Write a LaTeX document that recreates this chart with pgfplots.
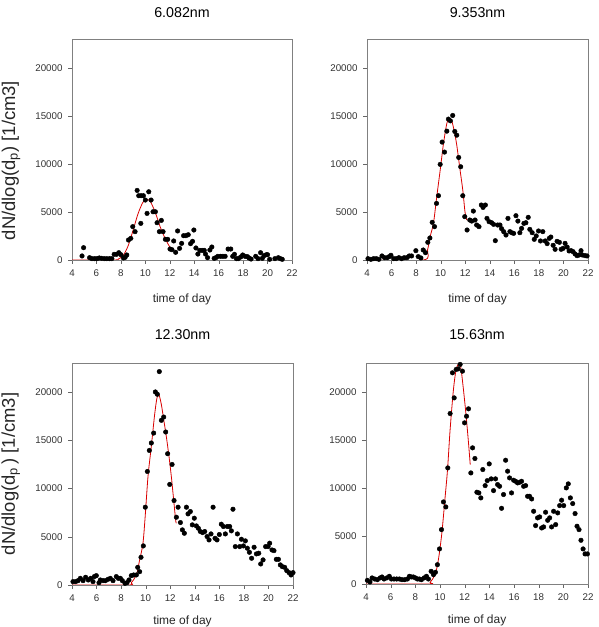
\documentclass[border=0pt]{standalone}
\usepackage{pgfplots}
\pgfplotsset{compat=1.18}
\usepackage{fontspec}
\setmainfont{Liberation Sans}

\pgfplotsset{
  panel/.style={
    scale only axis,
    xmin=4, xmax=22, ymin=0, ymax=23000,
    xtick={4,6,...,22},
    ytick={0,5000,10000,15000,20000},
    scaled y ticks=false,
    /pgf/number format/1000 sep={},
    /pgf/number format/assume math mode=true,
    tick pos=left,
    tick align=outside,
    major tick length=4bp,
    axis line style={draw=black!50},
    tick style={draw=black!60},
    ticklabel style={font=\fontsize{9.8}{11}\selectfont, text=black!80},
    xticklabel style={yshift=-2.5bp},
    yticklabel style={xshift=-2bp},
    xlabel={time of day},
    every axis x label/.style={at={(axis description cs:0.5,0)}, anchor=base,
      yshift=-43bp, font=\fontsize{12}{13}\selectfont, text=black!85},
    every axis title/.style={at={(axis description cs:0.5,1)}, anchor=base,
      yshift=21bp, font=\fontsize{14.3}{16}\selectfont},
    every axis y label/.style={rotate=90, anchor=center,
      font=\fontsize{18.5}{20}\selectfont, text=black!85},
  },
  dots/.style={only marks, mark=*, mark size=2.3bp, color=black},
  fit/.style={no marks, draw=red!85!black, line width=0.8bp, smooth},
}

\begin{document}
\begin{tikzpicture}[x=1bp,y=1bp]
\path[use as bounding box] (0,0) rectangle (599,627);

% ---------------- 6.082 nm ----------------
\begin{axis}[panel, width=220bp, height=221bp, at={(72bp,367bp)}, anchor=south west,
  title={6.082nm},
  ylabel={dN/dlog(d$_{\mathrm{p}}$) [1/cm3]},
  ylabel style={at={(axis description cs:-0.277,0.45)}}]
\addplot[fit] coordinates {
 (4,0) (7.4,0) (7.8,100) (8.2,500) (8.6,1500) (9.0,3100) (9.4,4800) (9.8,6000)
 (10.1,6300) (10.4,6100) (10.8,5000) (11.2,3500) (11.6,2300) (12.0,1350) (12.2,1050)};
\addplot[dots] table {
4.82 420
4.95 1280
5.44 240
5.63 140
5.85 140
6.04 140
6.23 210
6.42 170
6.64 140
6.85 140
7.07 140
7.26 140
7.45 590
7.64 590
7.83 760
8.00 550
8.21 210
8.35 280
8.48 520
8.62 2080
8.81 2250
8.97 3470
9.16 2950
9.33 7240
9.46 6690
9.63 3810
9.65 6690
9.84 6690
10.00 6240
10.14 4850
10.28 7100
10.47 6240
10.63 5020
10.82 5020
10.96 3880
11.15 2950
11.31 4120
11.45 2950
11.64 2150
11.83 2150
12.02 1140
12.18 1070
12.32 1980
12.48 800
12.64 3020
12.80 1210
12.97 1730
13.13 2530
13.32 2530
13.51 2630
13.70 1700
13.86 1940
13.97 3120
14.14 1250
14.30 620
14.46 1000
14.65 1000
14.82 1000
14.92 620
15.09 240
15.28 1040
15.44 1350
15.63 170
15.77 240
15.93 380
16.15 380
16.34 380
16.53 380
16.77 1140
16.99 1140
17.15 380
17.29 590
17.45 140
17.61 140
17.80 310
17.97 520
18.16 380
18.35 350
18.48 210
18.65 100
19.03 380
19.22 140
19.43 760
19.57 170
19.71 450
19.90 550
20.00 550
20.17 70
20.60 140
20.88 240
21.04 140
21.20 70
};
\end{axis}

% ---------------- 9.353 nm ----------------
\begin{axis}[panel, width=221bp, height=221bp, at={(367bp,367bp)}, anchor=south west,
  title={9.353nm}]
\addplot[fit] coordinates {
 (4,0) (8.6,0) (8.93,1040) (9.14,2430) (9.41,3810) (9.68,6580) (9.96,9350)
 (10.23,12130) (10.50,14200) (10.71,14730) (10.88,14550) (11.09,13510)
 (11.31,11950) (11.58,9350) (11.80,7280) (11.98,5020) (12.12,4160)};
\addplot[dots] table {
4.08 140
4.32 70
4.54 140
4.76 140
4.97 70
5.22 420
5.43 240
5.65 240
5.81 350
5.95 490
6.17 140
6.38 140
6.60 240
6.82 140
7.03 240
7.25 240
7.44 420
7.63 420
7.98 970
8.17 350
8.39 210
8.58 1040
8.76 760
8.95 1840
9.12 2290
9.31 3920
9.50 3470
9.66 5890
9.82 6690
9.96 9950
10.12 12270
10.31 11230
10.50 13410
10.63 14660
10.79 14480
10.98 15040
11.15 13380
11.31 12990
11.47 10670
11.63 9700
11.80 6690
11.96 4510
12.15 3120
12.37 4160
12.53 4050
12.66 5090
12.80 4160
12.93 3640
13.12 3470
13.31 5720
13.45 5470
13.64 5720
13.77 4330
13.94 3990
14.15 3880
14.31 3710
14.45 2010
14.64 3640
14.83 3640
14.96 3260
15.13 2950
15.32 2600
15.48 4330
15.64 2950
15.78 2840
15.94 2770
16.13 4610
16.29 4050
16.45 2840
16.59 3290
16.78 3810
16.94 3880
17.13 4440
17.26 3190
17.45 2840
17.62 2150
17.78 2500
17.97 3020
18.13 1980
18.32 2950
18.51 1980
18.67 1700
18.84 2250
18.97 2390
19.16 1530
19.32 1110
19.48 1940
19.67 1840
19.81 1110
19.97 1210
20.13 1730
20.30 1350
20.46 940
20.62 970
20.78 870
20.95 620
21.11 450
21.27 520
21.43 970
21.54 520
21.76 450
21.92 420
};
\end{axis}

% ---------------- 12.30 nm ----------------
\begin{axis}[panel, width=221bp, height=222bp, at={(72bp,42bp)}, anchor=south west,
  title={12.30nm}, title style={yshift=2bp}, xlabel style={yshift=3bp},
  ylabel={dN/dlog(d$_{\mathrm{p}}$\,) [1/cm3]},
  ylabel style={at={(axis description cs:-0.277,0.5)}}]
\addplot[fit] coordinates {
 (4,0) (8.6,0) (8.83,240) (9.24,1040) (9.51,2600) (9.78,4330) (9.97,7270)
 (10.19,11250) (10.46,14360) (10.73,17650) (10.92,19380) (11.08,19720)
 (11.28,18680) (11.47,17130) (11.68,15400) (11.90,13320) (12.09,11250)
 (12.28,8820) (12.44,6750) (12.50,6400)};
\addplot[dots] table {
4.08 350
4.30 350
4.49 450
4.68 690
4.90 450
5.11 800
5.33 520
5.52 690
5.71 350
5.82 870
5.98 970
6.20 240
6.31 520
6.53 450
6.72 450
6.93 590
7.12 690
7.34 450
7.61 870
7.77 690
7.94 690
8.10 450
8.32 170
8.48 240
8.64 520
8.83 970
9.02 1040
9.24 1040
9.35 1830
9.51 1380
9.62 2870
9.81 4050
9.97 8060
10.14 11760
10.30 13940
10.46 14710
10.65 15740
10.79 20000
10.95 19760
11.11 22110
11.28 17060
11.47 17400
11.63 15850
11.79 13600
11.96 10420
12.15 12490
12.31 8750
12.50 7020
12.64 8060
12.83 6470
12.99 5710
13.15 5360
13.32 8060
13.45 7370
13.64 7610
13.80 6230
13.96 6920
14.13 6120
14.29 5880
14.45 5540
14.64 5430
14.81 5540
15.00 5020
15.16 4670
15.32 5290
15.49 8060
15.65 4840
15.81 4670
16.00 5230
16.16 6300
16.33 6060
16.49 5290
16.65 6060
16.84 6060
16.98 5610
17.11 7850
17.30 3980
17.47 5290
17.66 3980
17.80 4740
17.96 4050
18.12 4570
18.28 3810
18.45 3390
18.63 2770
18.83 3910
19.02 3220
19.21 3290
19.37 2180
19.56 2600
19.77 3980
19.97 3980
20.10 4330
20.29 3630
20.45 3560
20.64 2660
20.81 2660
20.97 2080
21.13 1900
21.32 1830
21.49 1490
21.68 1280
21.84 1040
22.00 1280
};
\end{axis}

% ---------------- 15.63 nm ----------------
\begin{axis}[panel, width=222bp, height=221bp, at={(366bp,43bp)}, anchor=south west,
  title={15.63nm}, title style={yshift=2bp}, xlabel style={yshift=3bp}]
\addplot[fit] coordinates {
 (4,0) (9.1,0) (9.2,170) (9.6,970) (9.87,2540) (10.15,5310) (10.42,9130)
 (10.61,11910) (10.82,16080) (11.09,20240) (11.31,22330) (11.52,22900)
 (11.69,22500) (11.90,20240) (12.12,17460) (12.31,14690) (12.45,12430)};
\addplot[dots] table {
4.11 380
4.32 210
4.49 630
4.70 520
4.92 450
5.14 630
5.30 730
5.46 520
5.68 630
5.89 800
6.06 520
6.27 520
6.49 520
6.71 520
6.92 450
7.14 450
7.36 520
7.52 800
7.68 730
7.84 730
8.01 630
8.17 520
8.33 520
8.49 450
8.71 630
8.90 800
9.06 520
9.28 1320
9.47 970
9.63 1220
9.79 2010
9.96 3650
10.12 5660
10.28 8540
10.47 8020
10.63 12080
10.82 17740
11.01 21980
11.15 19370
11.31 22330
11.47 22390
11.63 22850
11.82 22150
11.99 16770
12.15 17460
12.31 18230
12.50 11560
12.64 14170
12.83 13060
12.99 9550
13.15 9480
13.31 8960
13.47 11910
13.66 10240
13.83 10760
13.99 12500
14.15 10940
14.34 9720
14.50 10940
14.67 10350
14.83 10170
14.99 7880
15.15 9310
15.32 12880
15.48 11740
15.64 11040
15.80 9480
15.97 10800
16.13 10690
16.29 10520
16.45 10590
16.61 10690
16.78 10170
16.94 10240
17.10 9130
17.26 9130
17.43 8850
17.59 7570
17.75 6080
17.91 6880
18.08 6980
18.24 5830
18.40 5940
18.56 7470
18.73 6630
18.89 6880
19.05 5940
19.21 7570
19.38 6180
19.54 7400
19.70 8160
19.86 8720
20.03 8160
20.24 10000
20.40 10420
20.57 8960
20.76 8370
20.95 7330
21.11 6010
21.27 5660
21.43 4550
21.60 3650
21.76 3130
21.95 3130
};
\end{axis}
\end{tikzpicture}
\end{document}
